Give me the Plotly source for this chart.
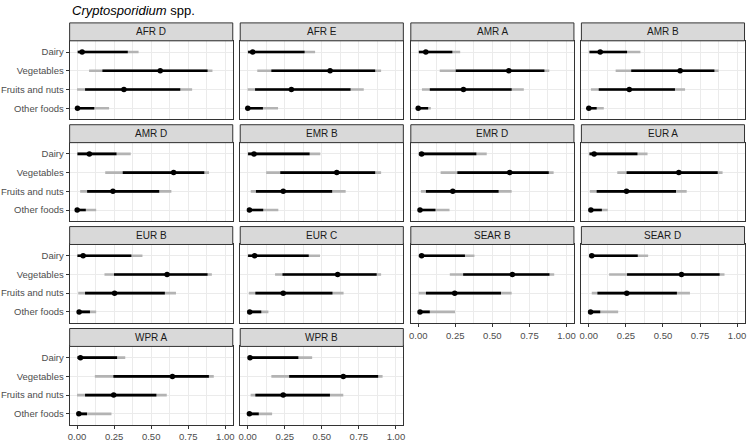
import plotly.graph_objects as go

regions = ['AFR D', 'AFR E', 'AMR A', 'AMR B', 'AMR D', 'EMR B', 'EMR D',
           'EUR A', 'EUR B', 'EUR C', 'SEAR B', 'SEAR D', 'WPR A', 'WPR B']
foods = ['Dairy', 'Vegetables', 'Fruits and nuts', 'Other foods']

# per region: values for Dairy, Vegetables, Fruits and nuts, Other foods
point = [
    [0.034, 0.561, 0.316, 0.003], [0.034, 0.556, 0.295, 0.001],
    [0.051, 0.611, 0.305, 0.000], [0.077, 0.616, 0.273, 0.000],
    [0.083, 0.651, 0.242, 0.001], [0.043, 0.601, 0.240, 0.012],
    [0.023, 0.617, 0.233, 0.012], [0.036, 0.607, 0.254, 0.014],
    [0.041, 0.607, 0.253, 0.014], [0.047, 0.607, 0.240, 0.014],
    [0.023, 0.635, 0.246, 0.012], [0.020, 0.625, 0.256, 0.012],
    [0.023, 0.643, 0.247, 0.012], [0.016, 0.645, 0.240, 0.012]]
inner_lo = [
    [0.005, 0.171, 0.054, 0.0], [0.003, 0.160, 0.050, 0.0],
    [0.005, 0.253, 0.078, 0.0], [0.005, 0.286, 0.067, 0.0],
    [0.003, 0.308, 0.068, 0.0], [0.003, 0.220, 0.056, 0.0],
    [0.005, 0.264, 0.052, 0.0], [0.005, 0.255, 0.053, 0.0],
    [0.003, 0.249, 0.054, 0.008], [0.003, 0.235, 0.052, 0.003],
    [0.005, 0.303, 0.052, 0.0], [0.005, 0.258, 0.058, 0.0],
    [0.003, 0.245, 0.054, 0.0], [0.003, 0.280, 0.052, 0.0]]
inner_hi = [
    [0.342, 0.880, 0.696, 0.116], [0.384, 0.860, 0.694, 0.103],
    [0.230, 0.851, 0.630, 0.067], [0.258, 0.847, 0.581, 0.053],
    [0.266, 0.858, 0.554, 0.059], [0.418, 0.860, 0.570, 0.105],
    [0.392, 0.880, 0.542, 0.116], [0.328, 0.869, 0.588, 0.088],
    [0.366, 0.880, 0.592, 0.087], [0.412, 0.870, 0.572, 0.092],
    [0.315, 0.885, 0.558, 0.078], [0.330, 0.882, 0.594, 0.077],
    [0.270, 0.889, 0.535, 0.067], [0.342, 0.880, 0.555, 0.075]]
outer_lo = [
    [0.0, 0.081, 0.000, 0.0], [0.0, 0.065, 0.000, 0.0],
    [0.0, 0.145, 0.025, 0.0], [0.0, 0.181, 0.014, 0.0],
    [0.0, 0.190, 0.021, 0.0], [0.0, 0.125, 0.021, 0.0],
    [0.0, 0.151, 0.018, 0.0], [0.0, 0.192, 0.007, 0.0],
    [0.0, 0.185, 0.008, 0.0], [0.0, 0.185, 0.008, 0.0],
    [0.0, 0.213, 0.003, 0.0], [0.0, 0.137, 0.020, 0.0],
    [0.0, 0.120, 0.000, 0.0], [0.0, 0.160, 0.020, 0.0]]
outer_hi = [
    [0.415, 0.913, 0.776, 0.216], [0.455, 0.900, 0.783, 0.205],
    [0.283, 0.884, 0.712, 0.085], [0.348, 0.876, 0.649, 0.101],
    [0.362, 0.890, 0.636, 0.129], [0.490, 0.900, 0.661, 0.207],
    [0.462, 0.913, 0.630, 0.211], [0.396, 0.902, 0.660, 0.128],
    [0.441, 0.909, 0.667, 0.129], [0.488, 0.900, 0.647, 0.140],
    [0.379, 0.917, 0.630, 0.248], [0.400, 0.915, 0.682, 0.198],
    [0.325, 0.922, 0.605, 0.232], [0.435, 0.910, 0.645, 0.165]]
x_ticks = [0, 0.25, 0.5, 0.75, 1.0]
x_ticklabels = ['0.00', '0.25', '0.50', '0.75', '1.00']
title_main = 'Cryptosporidium'
title_rest = ' spp.'

W, H = 750, 442
FONT = 'Liberation Sans, Arial, sans-serif'
col_left = [68, 239.5, 411, 582.5]
panel_w = 164
row_top = [23, 125.3, 227.6, 330]
strip_h = 18
plot_h = 79
ncol = 4
n = len(regions)

fig = go.Figure()
shapes = []
annotations = []


def seg(lo, hi):
    xs, ys = [], []
    for a, b, f in zip(lo, hi, foods):
        xs += [a, b, None]
        ys += [f, f, None]
    return xs, ys


for i, reg in enumerate(regions):
    r, c = divmod(i, ncol)
    ax = '' if i == 0 else str(i + 1)
    xa, ya = 'x' + ax, 'y' + ax
    x0 = col_left[c] / W
    x1 = (col_left[c] + panel_w) / W
    ytop_px = row_top[r] + strip_h
    ybot_px = ytop_px + plot_h
    y1 = 1 - ytop_px / H
    y0 = 1 - ybot_px / H

    gx, gy = seg(outer_lo[i], outer_hi[i])
    fig.add_trace(go.Scatter(x=gx, y=gy, mode='lines', xaxis=xa, yaxis=ya,
                             line=dict(color='#B3B3B3', width=2.6),
                             showlegend=False, hoverinfo='skip'))
    bx, by = seg(inner_lo[i], inner_hi[i])
    fig.add_trace(go.Scatter(x=bx, y=by, mode='lines', xaxis=xa, yaxis=ya,
                             line=dict(color='black', width=2.6),
                             showlegend=False, hoverinfo='skip'))
    fig.add_trace(go.Scatter(x=point[i], y=foods, mode='markers', xaxis=xa, yaxis=ya,
                             marker=dict(color='black', size=5.5),
                             showlegend=False))

    is_bottom = (i + ncol) >= n
    is_left = c == 0

    xaxis = dict(domain=[x0, x1], range=[-0.05, 1.05], anchor=ya,
                 showgrid=True, gridcolor='#EBEBEB', gridwidth=1,
                 tickvals=x_ticks, ticktext=x_ticklabels,
                 showticklabels=is_bottom,
                 ticks='outside' if is_bottom else '', ticklen=3, tickwidth=1,
                 tickcolor='#333333',
                 tickfont=dict(family=FONT, size=9.5, color='#4D4D4D'),
                 showline=True, mirror=True, linecolor='#333333', linewidth=1,
                 zeroline=False,
                 minor=dict(dtick=0.125, tick0=0, showgrid=True,
                            gridcolor='#EBEBEB', gridwidth=0.5, ticks=''))
    yaxis = dict(domain=[y0, y1], anchor=xa, type='category',
                 categoryorder='array', categoryarray=foods[::-1],
                 range=[-0.6, 3.6],
                 showgrid=True, gridcolor='#EBEBEB', gridwidth=1,
                 showticklabels=is_left,
                 ticks='outside' if is_left else '', ticklen=3, tickwidth=1,
                 tickcolor='#333333',
                 tickfont=dict(family=FONT, size=9.5, color='#4D4D4D'),
                 showline=True, mirror=True, linecolor='#333333', linewidth=1,
                 zeroline=False)
    fig.layout['xaxis' + ax] = xaxis
    fig.layout['yaxis' + ax] = yaxis

    sy1 = 1 - row_top[r] / H
    sy0 = 1 - (row_top[r] + strip_h) / H
    shapes.append(dict(type='rect', xref='paper', yref='paper',
                       x0=x0, x1=x1, y0=sy0, y1=sy1,
                       fillcolor='#D9D9D9', line=dict(color='#333333', width=1),
                       layer='above'))
    annotations.append(dict(text=reg, xref='paper', yref='paper',
                            x=(x0 + x1) / 2, y=(sy0 + sy1) / 2,
                            xanchor='center', yanchor='middle', showarrow=False,
                            font=dict(family=FONT, size=10, color='#1A1A1A')))

annotations.append(dict(text='<i>' + title_main + '</i>' + title_rest,
                        xref='paper', yref='paper', x=col_left[0] / W, y=1 - 1 / H,
                        xanchor='left', yanchor='top', showarrow=False,
                        font=dict(family=FONT, size=13, color='black')))

fig.update_layout(width=W, height=H, margin=dict(l=0, r=0, t=0, b=0),
                  paper_bgcolor='white', plot_bgcolor='white',
                  shapes=shapes, annotations=annotations,
                  font=dict(family=FONT))
fig.write_html('out.html', config={'displayModeBar': False},
               post_script="document.body.style.margin='0px';"
                           "document.body.style.overflow='hidden';")
